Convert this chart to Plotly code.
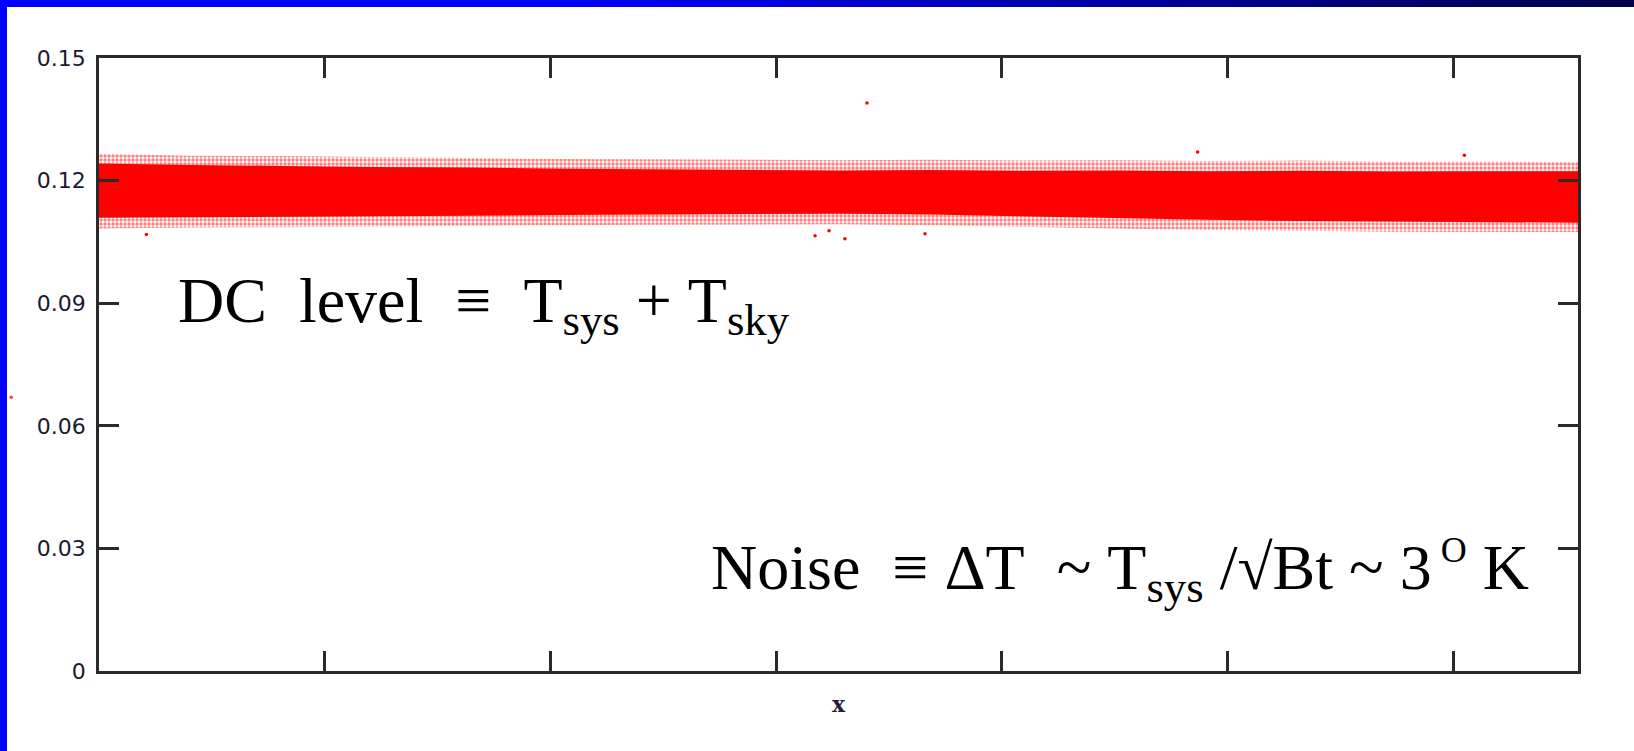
import plotly.graph_objects as go

# Receiver output: 2**16 samples, envelope of the noise band read at nodes
node_x = [0, 4096, 8192, 12288, 16384, 20480, 24576, 28672, 32768,
          36864, 40960, 45056, 49152, 53248, 57344, 61440, 65536]
core_hi = [0.1242, 0.1238, 0.1236, 0.1233, 0.1232, 0.1229, 0.1228, 0.1226, 0.1225,
           0.1226, 0.1224, 0.1225, 0.1223, 0.1224, 0.1222, 0.1223, 0.1223]
core_lo = [0.1109, 0.1110, 0.1111, 0.1113, 0.1114, 0.1116, 0.1118, 0.1118, 0.1119,
           0.1117, 0.1113, 0.1108, 0.1104, 0.1101, 0.1099, 0.1098, 0.1097]
sparse_hi = [0.1266, 0.1261, 0.1260, 0.1257, 0.1255, 0.1253, 0.1252, 0.1251, 0.1250,
             0.1251, 0.1249, 0.1250, 0.1248, 0.1249, 0.1246, 0.1247, 0.1245]
sparse_lo = [0.1083, 0.1085, 0.1086, 0.1088, 0.1089, 0.1091, 0.1092, 0.1093, 0.1093,
             0.1091, 0.1087, 0.1083, 0.1079, 0.1077, 0.1075, 0.1074, 0.1074]

# isolated spikes outside the band
spike_x = [34030, 31730, 33050, 32350, 36600, 48680, 2100, 60500]
spike_y = [0.1390, 0.1065, 0.1058, 0.1077, 0.1070, 0.1270, 0.1068, 0.1262]

y_ticks = [0, 0.03, 0.06, 0.09, 0.12, 0.15]
y_labels = ["0", "0.03", "0.06", "0.09", "0.12", "0.15"]
x_ticks = [0, 10000, 20000, 30000, 40000, 50000, 60000]

W, H = 1634, 751
L, R, T, B = 99, 1578, 58, 671


def px(x):
    return (x - L) / (R - L)


def py(y):
    return (B - y) / (B - T)


fig = go.Figure()

# speckled fringe of the band
fig.add_trace(go.Scatter(
    x=node_x + node_x[::-1], y=sparse_hi + sparse_lo[::-1],
    mode="lines", fill="toself", line=dict(width=0),
    fillcolor="rgba(255,0,0,0.30)",
    fillpattern=dict(shape=".", fgcolor="#ff0000", bgcolor="rgba(0,0,0,0)",
                     size=4, solidity=0.55, fillmode="overlay"),
    hoverinfo="skip", showlegend=False))

# dense core of the band
fig.add_trace(go.Scatter(
    x=node_x + node_x[::-1], y=core_hi + core_lo[::-1],
    mode="lines", fill="toself", line=dict(width=0, color="#ff0000"),
    fillcolor="#ff0000", hoverinfo="skip", showlegend=False))

fig.add_trace(go.Scatter(
    x=spike_x, y=spike_y, mode="markers",
    marker=dict(size=3.5, color="#ff0000"), showlegend=False))

frame = "#2a2a2a"
fig.update_xaxes(
    range=[0, 65536], tickvals=x_ticks, showticklabels=False,
    ticks="inside", ticklen=20, tickwidth=2.5, tickcolor=frame,
    showline=True, linewidth=2.5, linecolor=frame, mirror="ticks",
    showgrid=False, zeroline=False,
    title=dict(text="<b>x</b>", standoff=24,
               font=dict(family="DejaVu Serif", size=22, color="#2a1a3a")))
fig.update_yaxes(
    range=[0, 0.15], tickvals=y_ticks, ticktext=y_labels,
    ticks="inside", ticklen=20, tickwidth=2.5, tickcolor=frame,
    showline=True, linewidth=2.5, linecolor=frame, mirror="ticks",
    showgrid=False, zeroline=False, ticklabelstandoff=6,
    tickfont=dict(family="DejaVu Sans", size=22, color="#1a1a30"))

# slide border: solid blue left edge, blue-to-navy top strip
shapes = [dict(type="rect", xref="paper", yref="paper", x0=px(0), x1=px(7),
               y0=py(H), y1=py(0), fillcolor="#0000ff", line=dict(width=0),
               layer="above")]
n_seg = 60
for i in range(n_seg):
    x0 = W * i / n_seg
    x1 = W * (i + 1) / n_seg + 1
    t = (x0 + x1) / 2 / W
    if t < 0.35:
        b = 255
    else:
        b = int(round(255 - (255 - 72) * (t - 0.35) / 0.65))
    shapes.append(dict(type="rect", xref="paper", yref="paper",
                       x0=px(x0), x1=px(x1), y0=py(7), y1=py(0),
                       fillcolor=f"rgb(0,0,{b})", line=dict(width=0),
                       layer="above"))

# small red speck on the slide, left of the frame
shapes.append(dict(type="circle", xref="paper", yref="paper",
                   x0=px(9.5), x1=px(13), y0=py(399), y1=py(395.5),
                   fillcolor="#ff4040", line=dict(width=0), layer="above"))

nb = "\u00a0"
annotations = [
    dict(xref="paper", yref="paper", x=px(176), y=py(305),
         xanchor="left", yanchor="middle", showarrow=False,
         text=f"DC{nb}{nb}level{nb}{nb}\u2261{nb}{nb}T<sub>sys</sub>{nb}+{nb}T<sub>sky</sub>",
         font=dict(family="Liberation Serif", size=64, color="black")),
    dict(xref="paper", yref="paper", x=px(1531), y=py(571),
         xanchor="right", yanchor="middle", showarrow=False,
         text=(f"Noise{nb}{nb}\u2261{nb}\u0394T{nb}{nb}~{nb}T<sub>sys</sub>{nb}/\u221aBt{nb}~{nb}3"
               f"<sup><span style='font-size:36px'>{nb}O</span></sup>{nb}K"),
         font=dict(family="Liberation Serif", size=64, color="black")),
]

fig.update_layout(
    width=W, height=H, autosize=False,
    margin=dict(l=L, r=W - R, t=T, b=H - B, pad=0),
    paper_bgcolor="white", plot_bgcolor="white",
    shapes=shapes, annotations=annotations, showlegend=False)

fig.write_html("out.html")
